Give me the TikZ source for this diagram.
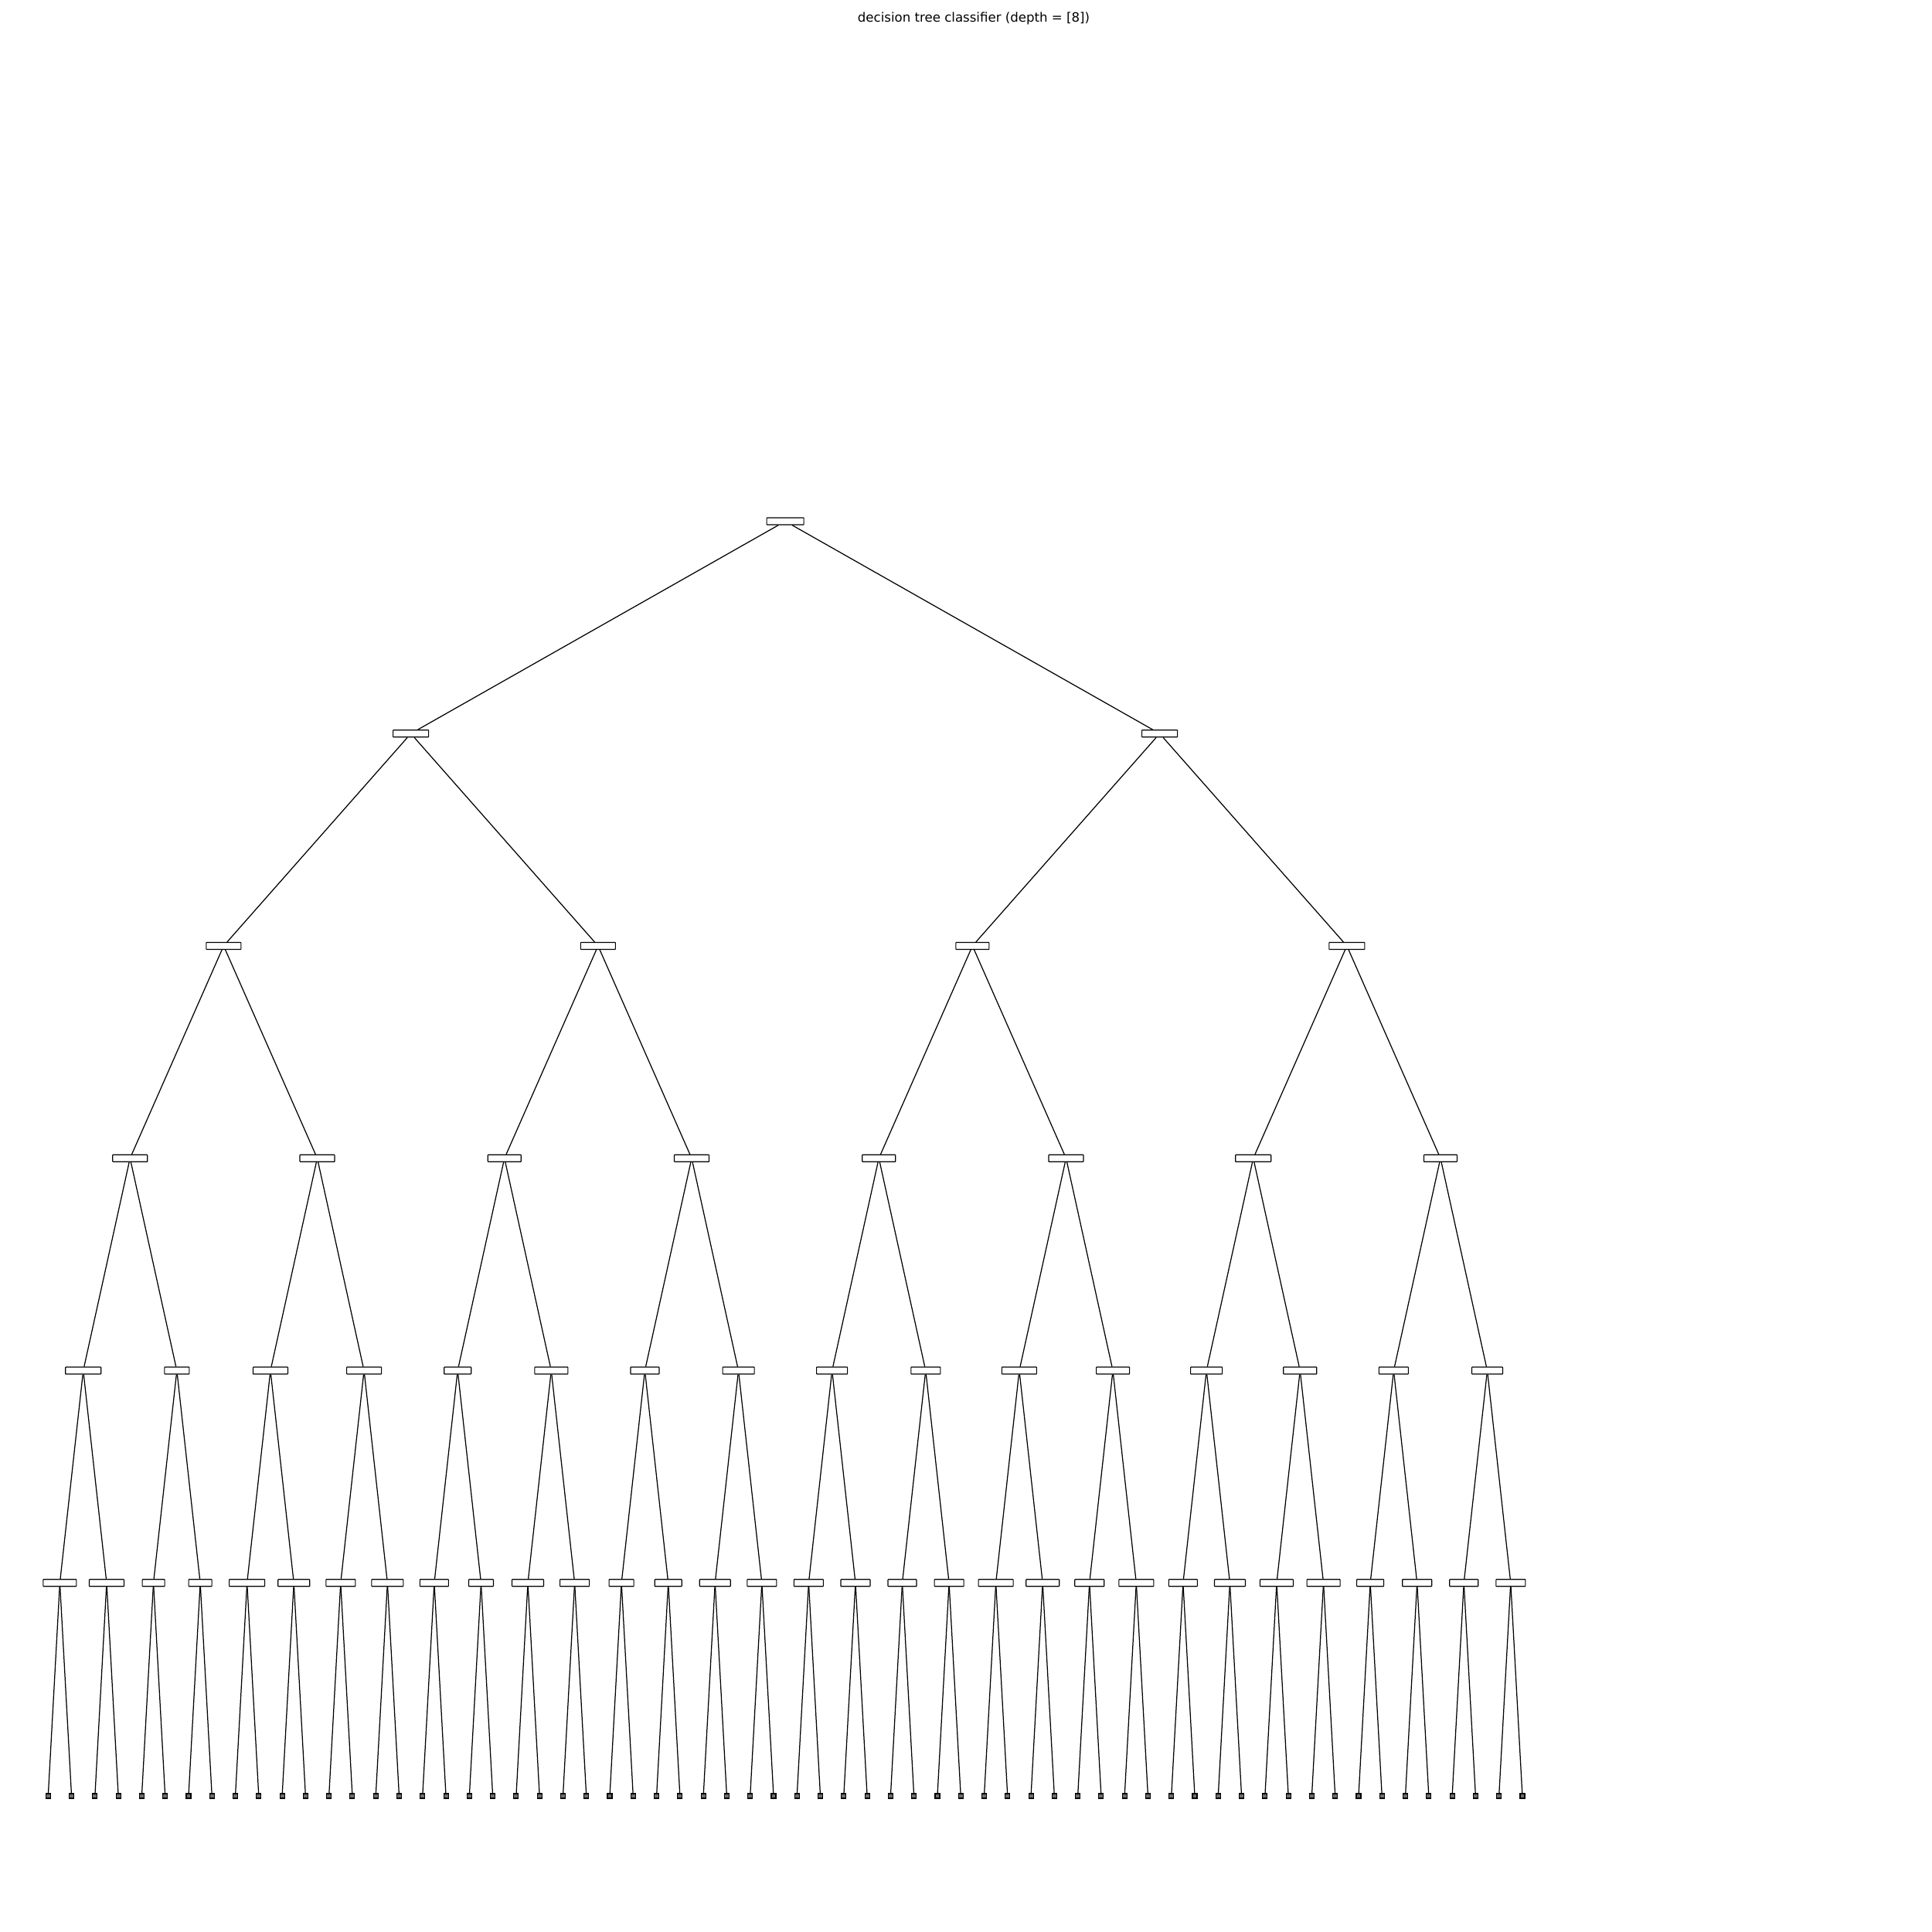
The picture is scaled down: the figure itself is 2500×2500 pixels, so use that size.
\documentclass[tikz,border=0pt]{standalone}
\usepackage{fontspec}
\setmainfont{DejaVu Sans}
\usepackage{xcolor}
\definecolor{leafgray}{HTML}{6E6E6E}
\tikzset{
  split/.style={
    rectangle, rounded corners=0.4pt, draw=black, fill=white,
    line width=0.8pt, inner sep=0pt,
    minimum height=9*0.254mm, minimum width=#1*0.254mm
  },
  leafbox/.style={
    rectangle, draw=black, fill=leafgray, line width=0.8pt,
    inner sep=0pt, minimum size=6*0.254mm
  },
  link/.style={draw=black, line width=0.9pt}
}

\begin{document}
\begin{tikzpicture}[x=0.254mm, y=-0.254mm]
  \useasboundingbox (0,0) rectangle (2500,2500);
  \node[font=\fontsize{12}{14}\selectfont] (title) at (1260,24)
    {decision tree classifier (depth = [8])};
  % split nodes, one list of box widths per level
  \foreach \lev/\wlist in {0/{48}, 1/{46,46}, 2/{45,45,43,46},
      3/{45,45,43,45,43,45,46,43},
      4/{46,32,45,45,35,43,37,41,40,38,45,43,41,43,38,40},
      5/{43,45,29,30,46,41,38,41,37,32,41,38,32,35,40,38,
         38,38,37,38,45,43,38,45,37,40,43,43,35,38,37,38}} {
    \foreach \w [count=\k from 0] in \wlist {
      \pgfmathsetmacro\xx{62.3+30.28*((\k+0.5)*2^(6-\lev)-0.5)}
      \pgfmathsetmacro\yy{674.5+274.75*\lev}
      \node[split=\w] (n\lev-\k) at (\xx,\yy) {};
    }
  }
  % leaves
  \foreach \k in {0,...,63}
    \node[leafbox] (n6-\k) at ({62.3+30.28*\k},2324) {};
  % parent -> child
  \foreach \lev in {1,...,6} {
    \pgfmathtruncatemacro\nmax{2^\lev-1}
    \pgfmathtruncatemacro\up{\lev-1}
    \foreach \k in {0,...,\nmax} {
      \pgfmathtruncatemacro\p{floor(\k/2)}
      \draw[link] (n\up-\p) -- (n\lev-\k);
    }
  }
\end{tikzpicture}
\end{document}
